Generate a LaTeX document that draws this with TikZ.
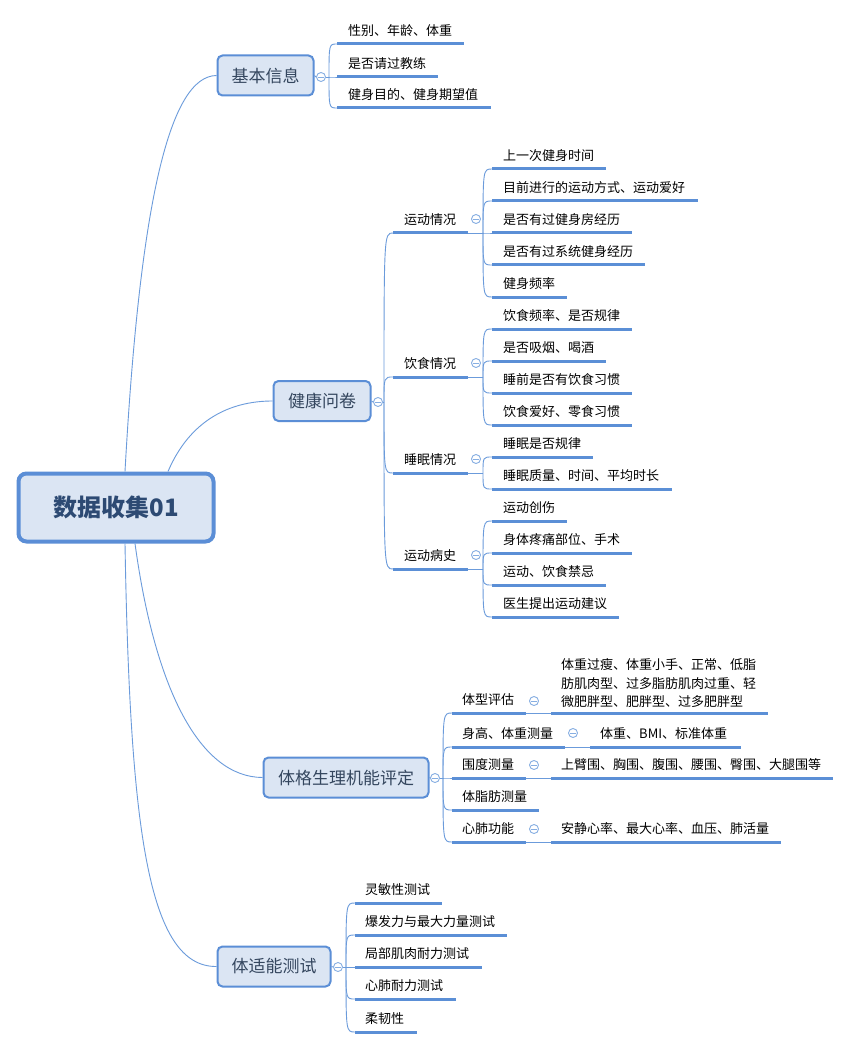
\documentclass[tikz,border=0pt]{standalone}
\usepackage{fontspec}
\setmainfont{Noto Sans CJK SC}
\definecolor{lineC}{HTML}{5B8FD6}
\definecolor{connC}{HTML}{6B9BDB}
\definecolor{boxFill}{HTML}{DBE5F3}
\definecolor{boxDraw}{HTML}{5B8ED6}
\definecolor{rootText}{HTML}{2D4A73}
\definecolor{boxText}{HTML}{34465E}
\definecolor{collC}{HTML}{86AEE2}
\tikzset{
  conn/.style={draw=connC, line width=0.9pt},
  uline/.style={draw=lineC, line width=3pt},
  leaft/.style={anchor=west, inner sep=0pt, font=\fontsize{13}{18.5}\selectfont, text=black},
  mbox/.style={draw=boxDraw, line width=2pt, fill=boxFill, rounded corners=5pt, text=boxText,
    font=\fontsize{17}{20}\selectfont, inner sep=0pt},
  rootbox/.style={draw=boxDraw, line width=4pt, fill=boxFill, rounded corners=8pt, text=rootText,
    font=\fontsize{24}{28}\bfseries\selectfont, inner sep=0pt},
  coll/.style={circle, draw=collC, line width=0.9pt, fill=white, minimum size=9pt, inner sep=0pt,
    path picture={\draw[collC, line width=0.9pt] ([xshift=-2.6pt]path picture bounding box.center) -- ([xshift=2.6pt]path picture bounding box.center);}}
}
% name, x0, x1, y, text, text offset
\newcommand\mmitem[6]{%
  \coordinate (#1) at (#2,#4);
  \coordinate (#1-e) at (#3,#4);
  \draw[uline] (#1) -- (#1-e);
  \node[leaft] (#1-t) at (#2+#6,#4-13) {#5};
}
\newcommand\mmlink[2]{\draw[conn] (#1) .. controls (#1 |- #2) .. (#2);}
\begin{document}
\begin{tikzpicture}[x=1pt,y=-1pt]
\useasboundingbox (0,0) rectangle (851,1048);
\fill[white] (0,0) rectangle (851,1048);

% ---------- main nodes ----------
\node[rootbox, minimum width=195pt, minimum height=68pt] (root) at (116,507.5) {数据收集01};
\node[mbox, minimum width=96pt, minimum height=40pt] (b1) at (265.5,75.5) {基本信息};
\node[mbox, minimum width=97pt, minimum height=40pt] (b2) at (322,401) {健康问卷};
\node[mbox, minimum width=165pt, minimum height=40pt] (b3) at (346,777.5) {体格生理机能评定};
\node[mbox, minimum width=113pt, minimum height=40pt] (b4) at (274,966.5) {体适能测试};

% root connectors
\draw[conn] ([xshift=9pt]root.north) .. controls (140,200) and (170,76) .. (b1.west);
\draw[conn] ([xshift=52pt]root.north) .. controls (190,420) and (230,401) .. (b2.west);
\draw[conn] ([xshift=19pt]root.south) .. controls (155,690) and (200,777) .. (b3.west);
\draw[conn] ([xshift=9pt]root.south) .. controls (130,830) and (148,967) .. (b4.west);

% ---------- 基本信息 ----------
\node[coll] (c1) at (321,77) {};
\coordinate (j1) at (329,77);
\draw[conn] (b1.east) -- (c1.west);
\draw[conn] (c1.east) -- (j1);
\mmitem{a1}{337}{464}{44}{性别、年龄、体重}{11}
\mmitem{a2}{337}{438}{77}{是否请过教练}{11}
\mmitem{a3}{337}{491}{108}{健身目的、健身期望值}{11}
\mmlink{j1}{a1}\mmlink{j1}{a2}\mmlink{j1}{a3}

% ---------- 健康问卷 ----------
\node[coll] (c2) at (378,402) {};
\coordinate (j2) at (384,402);
\draw[conn] (b2.east) -- (c2.west);
\draw[conn] (c2.east) -- (j2);
\mmitem{s1}{393}{468}{233}{运动情况}{11}
\mmitem{s2}{393}{468}{377}{饮食情况}{11}
\mmitem{s3}{393}{468}{473}{睡眠情况}{11}
\mmitem{s4}{393}{468}{569}{运动病史}{11}
\mmlink{j2}{s1}\mmlink{j2}{s2}\mmlink{j2}{s3}\mmlink{j2}{s4}

% 运动情况
\node[coll] (cs1) at (476,219) {};
\coordinate (js1) at (483,233);
\draw[conn] (s1-e) -- (js1);
\mmitem{s1a}{492}{606}{169}{上一次健身时间}{11}
\mmitem{s1b}{492}{698}{201}{目前进行的运动方式、运动爱好}{11}
\mmitem{s1c}{492}{632}{233}{是否有过健身房经历}{11}
\mmitem{s1d}{492}{645}{265}{是否有过系统健身经历}{11}
\mmitem{s1e}{492}{567}{297}{健身频率}{11}
\mmlink{js1}{s1a}\mmlink{js1}{s1b}\mmlink{js1}{s1c}\mmlink{js1}{s1d}\mmlink{js1}{s1e}

% 饮食情况
\node[coll] (cs2) at (476,363) {};
\coordinate (js2) at (483,377);
\draw[conn] (s2-e) -- (js2);
\mmitem{s2a}{492}{632}{329}{饮食频率、是否规律}{11}
\mmitem{s2b}{492}{606}{361}{是否吸烟、喝酒}{11}
\mmitem{s2c}{492}{632}{393}{睡前是否有饮食习惯}{11}
\mmitem{s2d}{492}{632}{425}{饮食爱好、零食习惯}{11}
\mmlink{js2}{s2a}\mmlink{js2}{s2b}\mmlink{js2}{s2c}\mmlink{js2}{s2d}

% 睡眠情况
\node[coll] (cs3) at (476,459) {};
\coordinate (js3) at (483,473);
\draw[conn] (s3-e) -- (js3);
\mmitem{s3a}{492}{593}{457}{睡眠是否规律}{11}
\mmitem{s3b}{492}{672}{489}{睡眠质量、时间、平均时长}{11}
\mmlink{js3}{s3a}\mmlink{js3}{s3b}

% 运动病史
\node[coll] (cs4) at (476,555) {};
\coordinate (js4) at (483,569);
\draw[conn] (s4-e) -- (js4);
\mmitem{s4a}{492}{567}{521}{运动创伤}{11}
\mmitem{s4b}{492}{632}{553}{身体疼痛部位、手术}{11}
\mmitem{s4c}{492}{606}{585}{运动、饮食禁忌}{11}
\mmitem{s4d}{492}{619}{617}{医生提出运动建议}{11}
\mmlink{js4}{s4a}\mmlink{js4}{s4b}\mmlink{js4}{s4c}\mmlink{js4}{s4d}

% ---------- 体格生理机能评定 ----------
\node[coll] (c3) at (435,778) {};
\coordinate (j3) at (443,778);
\draw[conn] (b3.east) -- (c3.west);
\draw[conn] (c3.east) -- (j3);
\mmitem{t1}{452}{526}{713}{体型评估}{10}
\mmitem{t2}{452}{565}{747}{身高、体重测量}{10}
\mmitem{t3}{452}{526}{778}{围度测量}{10}
\mmitem{t4}{452}{539}{810}{体脂肪测量}{10}
\mmitem{t5}{452}{526}{842}{心肺功能}{10}
\mmlink{j3}{t1}\mmlink{j3}{t2}\mmlink{j3}{t3}\mmlink{j3}{t4}\mmlink{j3}{t5}

% 体型评估
\node[coll] (ct1) at (534,701) {};
\coordinate (t1a) at (551,713);
\coordinate (t1a-e) at (768,713);
\draw[conn] (t1-e) -- (t1a);
\draw[uline] (t1a) -- (t1a-e);
\node[leaft, align=left] (t1a-t) at (561,683.5) {体重过瘦、体重小手、正常、低脂\\肪肌肉型、过多脂肪肌肉过重、轻\\微肥胖型、肥胖型、过多肥胖型};

% 身高、体重测量
\node[coll] (ct2) at (573,733) {};
\mmitem{t2a}{590}{741}{747}{体重、BMI、标准体重}{10}
\draw[conn] (t2-e) -- (t2a);

% 围度测量
\node[coll] (ct3) at (534,765) {};
\mmitem{t3a}{551}{833}{778}{上臂围、胸围、腹围、腰围、臀围、大腿围等}{10}
\draw[conn] (t3-e) -- (t3a);

% 心肺功能
\node[coll] (ct5) at (534,829) {};
\mmitem{t5a}{551}{781}{842}{安静心率、最大心率、血压、肺活量}{10}
\draw[conn] (t5-e) -- (t5a);

% ---------- 体适能测试 ----------
\node[coll] (c4) at (338,967) {};
\coordinate (j4) at (346,967);
\draw[conn] (b4.east) -- (c4.west);
\draw[conn] (c4.east) -- (j4);
\mmitem{f1}{355}{442}{903}{灵敏性测试}{10}
\mmitem{f2}{355}{507}{935}{爆发力与最大力量测试}{10}
\mmitem{f3}{355}{482}{967}{局部肌肉耐力测试}{10}
\mmitem{f4}{355}{456}{999}{心肺耐力测试}{10}
\mmitem{f5}{355}{417}{1032}{柔韧性}{10}
\mmlink{j4}{f1}\mmlink{j4}{f2}\mmlink{j4}{f3}\mmlink{j4}{f4}\mmlink{j4}{f5}
\end{tikzpicture}
\end{document}
